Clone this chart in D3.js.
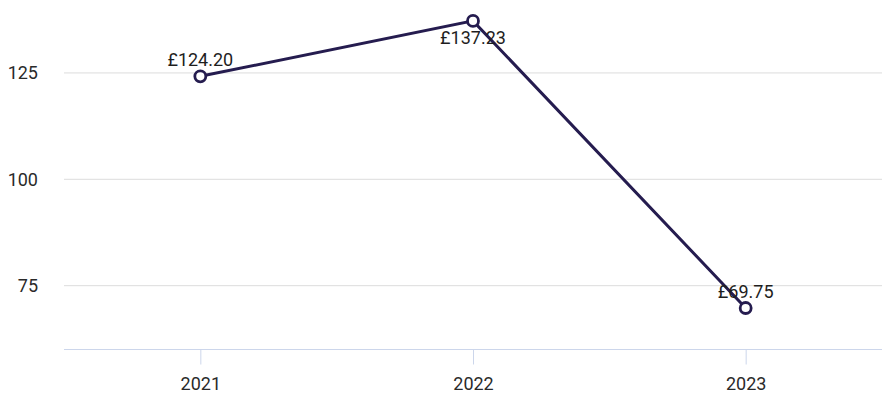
<!DOCTYPE html>
<html><head><meta charset="utf-8">
<script src="https://cdn.jsdelivr.net/npm/d3@7"></script>
<style>body{margin:0;background:#fff}svg{display:block;font-family:Roboto,sans-serif}</style>
</head><body><svg id="c" width="886" height="396"></svg>
<script>
const years = ["2021", "2022", "2023"];
const values = [124.20, 137.23, 69.75];
const labels = ["£124.20", "£137.23", "£69.75"];
const labelAbove = [true, false, true];
const yTicks = [75, 100, 125];

const svg = d3.select("#c");
const left = 64, right = 882;
const x = d3.scalePoint().domain(years).range([left, right]).padding(0.5);
const y = d3.scaleLinear().domain([60, 140]).range([349.5, 9.1]);

// gridlines
svg.append("g").selectAll("line").data(yTicks).join("line")
  .attr("x1", left).attr("x2", right)
  .attr("y1", d => y(d)).attr("y2", d => y(d))
  .attr("stroke", "#dcdcdc").attr("stroke-width", 1);

// y labels
svg.append("g").selectAll("text").data(yTicks).join("text")
  .attr("x", 38).attr("y", d => y(d)).attr("dy", "0.35em")
  .attr("text-anchor", "end").attr("font-size", 18).attr("fill", "#2a2a2a")
  .text(d => d);

// x axis
const xa = svg.append("g").attr("transform", `translate(0,${y(60)})`)
  .call(d3.axisBottom(x).tickSize(15).tickPadding(13));
xa.select(".domain").attr("d", `M${left},0H${right}`).attr("stroke", "#ccd6eb");
xa.selectAll(".tick line").attr("stroke", "#ccd6eb");
xa.selectAll(".tick text").attr("font-size", 18).attr("fill", "#2a2a2a").attr("font-family", "Roboto,sans-serif");

const pts = years.map((yr, i) => ({yr, v: values[i], lab: labels[i], above: labelAbove[i]}));

svg.append("path").datum(pts)
  .attr("d", d3.line().x(d => x(d.yr)).y(d => y(d.v)))
  .attr("fill", "none").attr("stroke", "#251c4f").attr("stroke-width", 3);

svg.append("g").selectAll("circle").data(pts).join("circle")
  .attr("cx", d => x(d.yr)).attr("cy", d => y(d.v)).attr("r", 5.5)
  .attr("fill", "#fff").attr("stroke", "#251c4f").attr("stroke-width", 2.8);

svg.append("g").selectAll("text").data(pts).join("text")
  .attr("x", d => x(d.yr)).attr("y", d => d.above ? y(d.v) - 10 : y(d.v) + 23)
  .attr("text-anchor", "middle").attr("font-size", 18).attr("fill", "#1e1e1e")
  .text(d => d.lab);
</script></body></html>
